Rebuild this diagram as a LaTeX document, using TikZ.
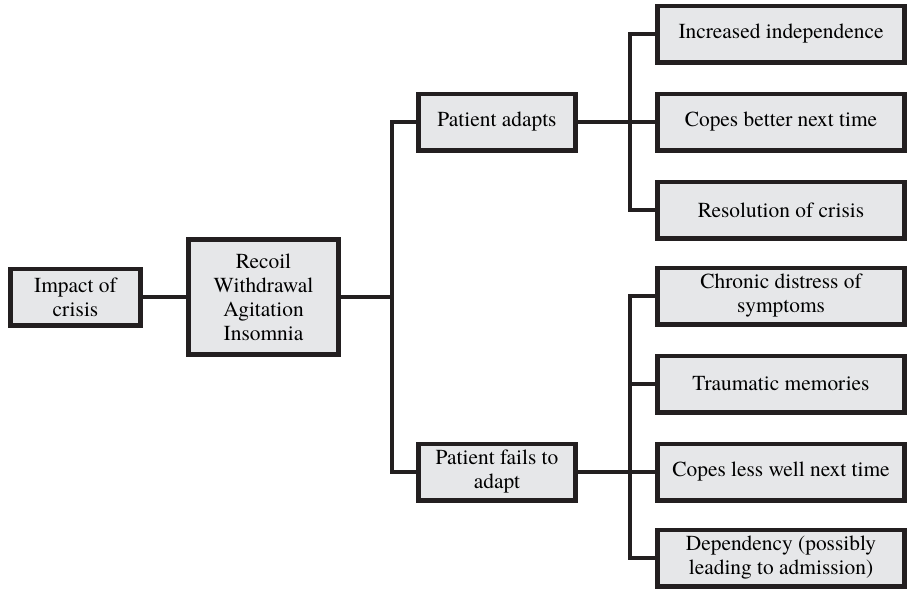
\documentclass[tikz,border=0pt]{standalone}
\usepackage{fontspec}
\setmainfont{texgyretermes}[Extension=.otf, UprightFont=*-regular]
\usetikzlibrary{positioning}
\definecolor{boxgray}{HTML}{E6E7E9}
\definecolor{inkblack}{HTML}{231F20}

\begin{document}
\begin{tikzpicture}[x=0.5pt,y=-0.5pt]
        \tikzstyle{box} = [draw=inkblack, line width=2.3pt, fill=boxgray, inner sep=2pt,
        align=center, minimum height=28.2pt, font=\fontsize{10.7}{12}\selectfont]
        \tikzstyle{link} = [draw=inkblack, line width=2.4pt]
        \useasboundingbox (0,0) rectangle (913,589);

        % first two stages
        \node[box, minimum width=65.2pt] (impact) at (75.5,297) {Impact of\\crisis};
        \node[box, minimum width=75.2pt, minimum height=57.7pt] (recoil) at (263.5,297) {Recoil\\Withdrawal\\Agitation\\Insomnia};

        % the two outcomes
        \node[box, minimum width=78.7pt] (adapts) at (497,122) {Patient adapts};
        \node[box, minimum width=78.7pt] (fails) at (497,472) {Patient fails to\\adapt};

        % results of adapting
        \node[box, minimum width=123.7pt] (indep) at (781,34) {Increased independence};
        \node[box, minimum width=123.7pt] (better) at (781,122) {Copes better next time};
        \node[box, minimum width=123.7pt] (resol) at (781,210) {Resolution of crisis};

        % results of failing
        \node[box, minimum width=123.7pt] (chronic) at (781,296) {Chronic distress of\\symptoms};
        \node[box, minimum width=123.7pt] (trauma) at (781,384) {Traumatic memories};
        \node[box, minimum width=123.7pt] (lesswell) at (781,472) {Copes less well next time};
        \node[box, minimum width=123.7pt] (depend) at (781,558) {Dependency (possibly\\leading to admission)};

        \coordinate (j1) at (392,297);
        \coordinate (j2) at (630,122);
        \coordinate (j3) at (630,472);

        \draw[link] (impact) -- (recoil);
        \draw[link] (recoil) -- (j1);
        \draw[link] (adapts.west) -| (j1) |- (fails.west);

        \draw[link] (adapts) -- (better);
        \draw[link] (indep.west) -| (j2) |- (resol.west);

        \draw[link] (fails) -- (lesswell);
        \draw[link] (chronic.west) -| (j3) |- (depend.west);
        \draw[link] (trauma.west) -- (trauma.west -| j3);
\end{tikzpicture}
\end{document}
